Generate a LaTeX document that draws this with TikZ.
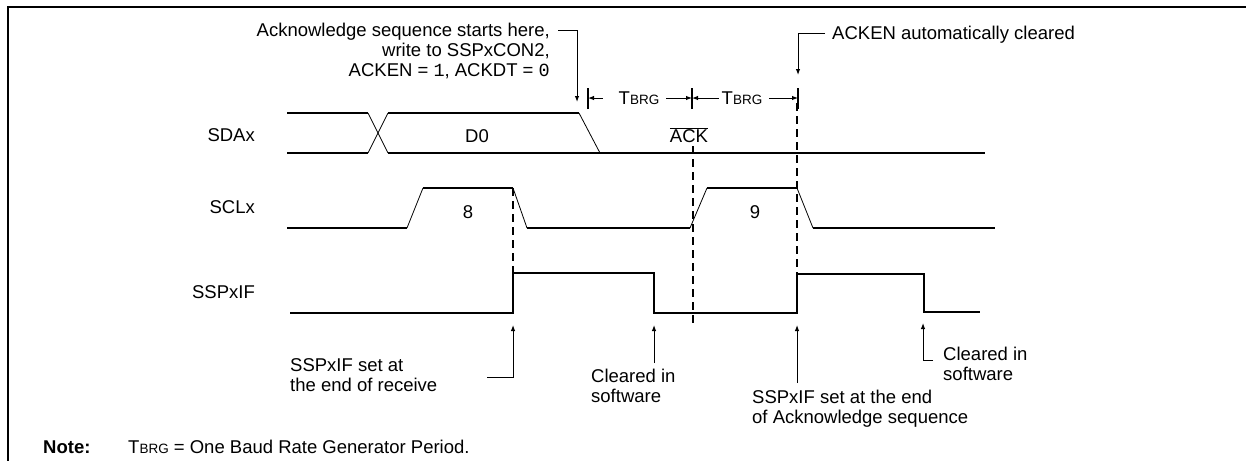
\documentclass[tikz,border=0pt]{standalone}
\usepackage{fontspec}
\setmainfont{Liberation Sans}
\setmonofont{Liberation Mono}
\usetikzlibrary{arrows.meta,positioning}

\tikzset{
  sig/.style={line width=1.6pt},
  ramp/.style={line width=0.8pt},
  guide/.style={line width=1.4pt, dash pattern=on 8pt off 5pt},
  callout/.style={line width=1pt, -{Latex[length=6pt,width=4.5pt]}},
  tick/.style={line width=1.4pt},
  lbl/.style={inner sep=0pt, font=\fontsize{18.5}{20}\selectfont},
}
\newcommand{\tbrg}{T{\fontsize{13.5}{14}\selectfont BRG}}

\begin{document}
\begin{tikzpicture}[x=1pt, y=-1pt]
    \useasboundingbox (0,0) rectangle (1246,461);

    % Frame
    \draw[line width=2pt] (1246,7) -- (8,7) -- (8,461);

    % Signal names
    \node[lbl, anchor=east] (sda) at (255,135) {SDAx};
    \node[lbl, anchor=east] (scl) at (255,207) {SCLx};
    \node[lbl, anchor=east] (flag) at (255,292) {SSPxIF};

    % SDAx
    \draw[sig] (287,113) -- (368,113);
    \draw[sig] (287,153) -- (368,153);
    \draw[ramp] (368,113) -- (388,153);
    \draw[ramp] (368,153) -- (388,113);
    \draw[sig] (388,113) -- (579,113);
    \draw[ramp] (579,113) -- (600,153);
    \draw[sig] (388,153) -- (985,153);
    \node[lbl] (d0) at (477,136) {D0};
    \node[lbl] (ack) at (689,135) {$\overline{\mbox{ACK}}$};

    % SCLx
    \draw[sig] (287,228) -- (407,228);
    \draw[ramp] (407,228) -- (423,188);
    \draw[sig] (423,188) -- (513,188);
    \draw[ramp] (513,188) -- (527,228);
    \draw[sig] (527,228) -- (690,228);
    \draw[ramp] (690,228) -- (707,188);
    \draw[sig] (707,188) -- (797,188);
    \draw[ramp] (797,188) -- (813,228);
    \draw[sig] (813,228) -- (995,228);
    \node[lbl] (b8) at (468,212) {8};
    \node[lbl] (b9) at (755,212) {9};

    % SSPxIF
    \draw[sig] (290,313) -- (513,313) -- (513,273) -- (654,273) -- (654,313)
        -- (797,313) -- (797,274) -- (924,274) -- (924,312) -- (980,312);

    % Guides
    \draw[guide] (513,188) -- (513,273);
    \draw[guide] (693,146) -- (693,327);
    \draw[guide] (797,103) -- (797,273);

    % Baud rate periods
    \coordinate (t0) at (588,98);
    \coordinate (t1) at (692,98);
    \coordinate (t2) at (798,98);
    \foreach \t in {t0,t1,t2}
        \draw[tick] ([yshift=-11pt]\t) -- ([yshift=10pt]\t);
    \node[lbl] (brg1) at (639,98) {\tbrg};
    \node[lbl] (brg2) at (742,98) {\tbrg};
    \draw[callout] (brg1.west) ++(-16,0) -- (t0);
    \draw[callout] (brg1.east) ++(7,0) -- (t1);
    \draw[callout] (brg2.west) ++(-3,0) -- (t1);
    \draw[callout] (brg2.east) ++(7,0) -- (t2);

    % Callouts above
    \node[lbl, anchor=east, align=right] (start) at (550,51)
        {Acknowledge sequence starts here,\\write to SSPxCON2,\\ACKEN = \texttt{1}, ACKDT = \texttt{0}};
    \coordinate (startc) at (577,30);
    \draw[callout] (558,30) -- (startc) -- (577,102);

    \node[lbl, anchor=west] (auto) at (832,35) {ACKEN automatically cleared};
    \coordinate (autoc) at (798,33);
    \draw[callout] (825,33) -- (autoc) -- (798,75);

    % Callouts below
    \node[lbl, anchor=west, align=left] (setrx) at (290,375) {SSPxIF set at\\the end of receive};
    \draw[callout] (487,377) -- (513,377) -- (513,325);

    \node[lbl, anchor=west, align=left] (clr1) at (591,386) {Cleared in\\software};
    \draw[callout] (654,363) -- (654,325);

    \node[lbl, anchor=west, align=left] (setack) at (752,409) {SSPxIF set at the end\\of Acknowledge sequence};
    \draw[callout] (797,383) -- (797,325);

    \node[lbl, anchor=west, align=left] (clr2) at (943,364) {Cleared in\\software};
    \draw[callout] (933,360) -- (923,360) -- (923,323);

    % Note
    \node[lbl, anchor=west, font=\fontsize{18.5}{20}\selectfont\bfseries] (note) at (43,447) {Note:};
    \node[lbl, anchor=west] (notetxt) at (128,447) {\tbrg{} = One Baud Rate Generator Period.};
\end{tikzpicture}
\end{document}
